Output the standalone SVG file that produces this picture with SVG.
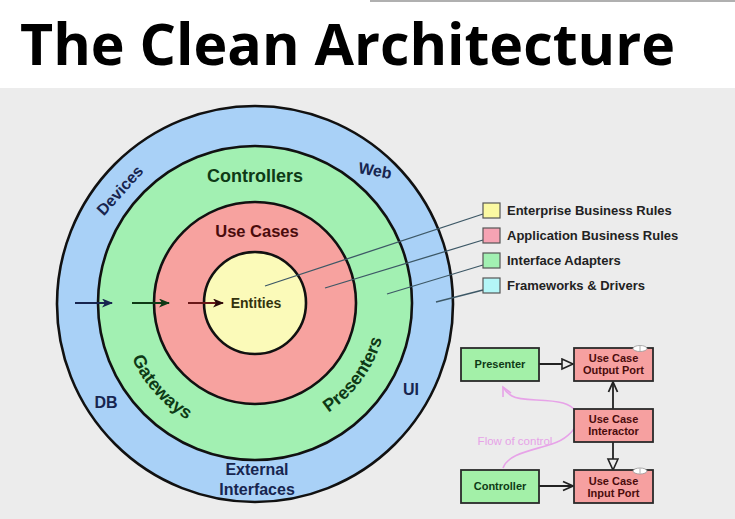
<svg xmlns="http://www.w3.org/2000/svg" width="735" height="519" viewBox="0 0 735 519">
<defs>
<style>
.lbl{font-family:"Liberation Sans",Arial,sans-serif;font-weight:bold}
.ring{stroke:#111;stroke-width:2.6}
.navy{fill:#17254f}
.dgreen{fill:#0e3a16}
.maroon{fill:#4a0c0c}
.leg{font-family:"Liberation Sans",Arial,sans-serif;font-weight:bold;font-size:13px;fill:#222}
.legbox{stroke:#555;stroke-width:1.2}
.legline{stroke:#3d5866;stroke-width:1.3;fill:none}
.box{stroke:#2a2a2a;stroke-width:1.8}
.gbox{fill:#a3f0a8}
.pbox{fill:#f6a0a0}
.btxt{font-family:"Liberation Sans",Arial,sans-serif;font-weight:bold;font-size:11px;text-anchor:middle}
.conn{stroke:#222;stroke-width:1.8;fill:none}
</style>
<marker id="ahNavy" markerUnits="userSpaceOnUse" markerWidth="12" markerHeight="10" refX="10" refY="4.5" orient="auto"><path d="M0,0 L11,4.5 L0,9 L3,4.5 z" fill="#17254f"/></marker>
<marker id="ahGreen" markerUnits="userSpaceOnUse" markerWidth="12" markerHeight="10" refX="10" refY="4.5" orient="auto"><path d="M0,0 L11,4.5 L0,9 L3,4.5 z" fill="#0e3a16"/></marker>
<marker id="ahRed" markerUnits="userSpaceOnUse" markerWidth="12" markerHeight="10" refX="10" refY="4.5" orient="auto"><path d="M0,0 L11,4.5 L0,9 L3,4.5 z" fill="#2a0a0a"/></marker>
<marker id="hollow" markerUnits="userSpaceOnUse" markerWidth="14" markerHeight="14" refX="12" refY="6" orient="auto"><path d="M1,1 L12,6 L1,11 z" fill="#ececec" stroke="#222" stroke-width="1.6"/></marker>
<marker id="open" markerUnits="userSpaceOnUse" markerWidth="14" markerHeight="14" refX="11" refY="6" orient="auto"><path d="M1,1.5 L11,6 L1,10.5" fill="none" stroke="#222" stroke-width="1.8"/></marker>
<marker id="pinkhead" markerUnits="userSpaceOnUse" markerWidth="14" markerHeight="14" refX="10" refY="6" orient="auto"><path d="M1,1.5 L10,6 L1,10.5" fill="none" stroke="#e7a3e8" stroke-width="1.6"/></marker>
<path id="gwPath" d="M125.9,342.5 A135,135 0 0 0 202.3,427.3"/>
<path id="prPath" d="M319,418.4 A132,132 0 0 0 384.6,328.2"/>
</defs>

<rect x="0" y="0" width="735" height="519" fill="#ececec"/>
<rect x="0" y="0" width="735" height="88" fill="#ffffff"/>
<rect x="370" y="0" width="365" height="2" fill="#b0b0b0"/>

<text id="title" x="20" y="65" font-family="'Open Sans','Noto Sans',sans-serif" font-weight="bold" font-size="58" fill="#000" textLength="655" lengthAdjust="spacingAndGlyphs">The Clean Architecture</text>

<g id="ring-frameworks">
<circle class="ring" cx="255" cy="304" r="198" fill="#a9d1f7"/>
<text class="lbl navy" font-size="16" text-anchor="middle" transform="translate(124,194) rotate(-48)">Devices</text>
<text class="lbl navy" font-size="16" x="375" y="176" text-anchor="middle" transform="rotate(10 375 171)">Web</text>
<text class="lbl navy" font-size="16" x="106" y="408" text-anchor="middle">DB</text>
<text class="lbl navy" font-size="16" x="411" y="395" text-anchor="middle">UI</text>
<text class="lbl navy" font-size="16" x="257" y="475" text-anchor="middle">External</text>
<text class="lbl navy" font-size="16" x="257" y="495" text-anchor="middle">Interfaces</text>
</g>

<g id="ring-adapters">
<circle class="ring" cx="255" cy="303" r="157" fill="#a2f0b2"/>
<text class="lbl dgreen" font-size="18" x="255" y="182" text-anchor="middle">Controllers</text>
<text class="lbl dgreen" font-size="18"><textPath href="#gwPath" startOffset="50%" text-anchor="middle">Gateways</textPath></text>
<text class="lbl dgreen" font-size="18"><textPath href="#prPath" startOffset="50%" text-anchor="middle">Presenters</textPath></text>
</g>

<g id="ring-usecases">
<circle class="ring" cx="255" cy="303" r="101" fill="#f7a29f"/>
<text class="lbl maroon" font-size="16.5" x="257" y="237" text-anchor="middle">Use Cases</text>
</g>

<g id="ring-entities">
<circle class="ring" cx="255" cy="303" r="51" fill="#fbfab9"/>
<text class="lbl" font-size="14" x="256" y="308" text-anchor="middle" fill="#33330d">Entities</text>
</g>

<g id="dependency-arrows">
<line x1="75" y1="303" x2="112" y2="303" stroke="#17254f" stroke-width="2" marker-end="url(#ahNavy)"/>
<line x1="132" y1="303" x2="169" y2="303" stroke="#0e3a16" stroke-width="2" marker-end="url(#ahGreen)"/>
<line x1="188" y1="303" x2="223" y2="303" stroke="#6a1818" stroke-width="2" marker-end="url(#ahRed)"/>
</g>

<g id="legend-lines">
<line class="legline" x1="265" y1="286" x2="483" y2="214"/>
<line class="legline" x1="325" y1="288" x2="483" y2="240"/>
<line class="legline" x1="387" y1="294" x2="483" y2="265"/>
<line class="legline" x1="436" y1="302" x2="483" y2="290"/>
</g>

<g id="legend">
<g id="legend-enterprise"><rect class="legbox" x="483" y="203" width="17" height="15" fill="#fbf9a2"/><text class="leg" x="507" y="215">Enterprise Business Rules</text></g>
<g id="legend-application"><rect class="legbox" x="483" y="228" width="17" height="15" fill="#f6a3b3"/><text class="leg" x="507" y="240">Application Business Rules</text></g>
<g id="legend-adapters"><rect class="legbox" x="483" y="253" width="17" height="15" fill="#a2f0b2"/><text class="leg" x="507" y="265">Interface Adapters</text></g>
<g id="legend-frameworks"><rect class="legbox" x="483" y="278" width="17" height="15" fill="#b4f6f7"/><text class="leg" x="507" y="290">Frameworks &amp; Drivers</text></g>
</g>

<g id="flow-of-control">
<path d="M503,468 C508,454 530,451 552,444 C578,436 588,410 563,403 C545,398 522,402 512,396 C507,393 505,391 503,387" fill="none" stroke="#e7a3e8" stroke-width="1.6" marker-end="url(#pinkhead)"/>
<text x="515" y="445" font-family="'Liberation Sans',Arial,sans-serif" font-size="11.5" fill="#e7a3e8" text-anchor="middle">Flow of control</text>
</g>

<g id="connectors">
<line class="conn" x1="539" y1="364" x2="573" y2="364" marker-end="url(#hollow)"/>
<line class="conn" x1="613" y1="409" x2="613" y2="382" marker-end="url(#open)"/>
<line class="conn" x1="613" y1="442" x2="613" y2="470" marker-end="url(#hollow)"/>
<line class="conn" x1="539" y1="486" x2="573" y2="486" marker-end="url(#open)"/>
</g>

<g id="presenter">
<rect class="box gbox" x="461" y="348" width="78" height="33"/>
<text class="btxt dgreen" x="500" y="368">Presenter</text>
</g>
<g id="output-port">
<rect class="box pbox" x="574" y="348" width="79" height="33"/>
<ellipse cx="640" cy="348.5" rx="7" ry="3" fill="#fff" stroke="#999" stroke-width="0.8"/>
<line x1="640" y1="346" x2="640" y2="351" stroke="#999" stroke-width="0.8"/>
<text class="btxt maroon" x="613.5" y="362">Use Case</text>
<text class="btxt maroon" x="613.5" y="374">Output Port</text>
</g>
<g id="interactor">
<rect class="box pbox" x="574" y="409" width="79" height="33"/>
<text class="btxt maroon" x="613.5" y="423">Use Case</text>
<text class="btxt maroon" x="613.5" y="435">Interactor</text>
</g>
<g id="input-port">
<rect class="box pbox" x="574" y="470" width="79" height="33"/>
<ellipse cx="640" cy="471" rx="7" ry="3" fill="#fff" stroke="#999" stroke-width="0.8"/>
<line x1="640" y1="468.5" x2="640" y2="473.5" stroke="#999" stroke-width="0.8"/>
<text class="btxt maroon" x="613.5" y="485">Use Case</text>
<text class="btxt maroon" x="613.5" y="497">Input Port</text>
</g>
<g id="controller">
<rect class="box gbox" x="461" y="470" width="78" height="33"/>
<text class="btxt dgreen" x="500" y="490">Controller</text>
</g>
</svg>
